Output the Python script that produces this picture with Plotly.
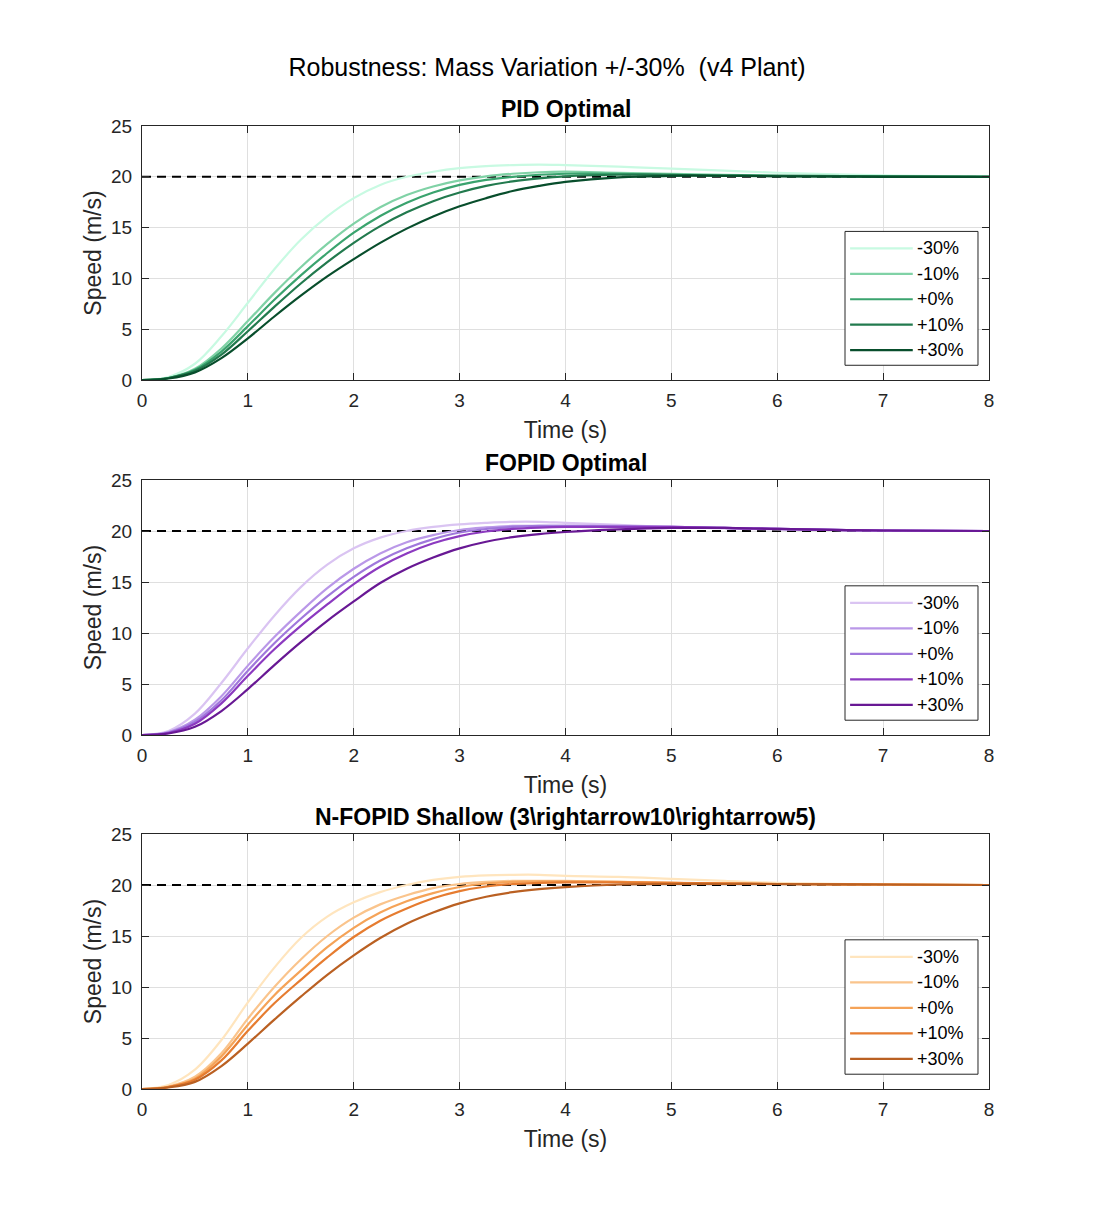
import plotly.graph_objects as go
from plotly.subplots import make_subplots

# ---------------- data ----------------
time_s = [0, 0.25, 0.5, 0.75, 1, 1.25, 1.5, 1.75, 2, 2.25, 2.5, 2.75, 3, 3.25, 3.5, 3.75, 4, 4.5, 5, 5.5, 6, 7, 8]
labels = ["-30%", "-10%", "+0%", "+10%", "+30%"]
reference_speed = 20

pid_m30 = [0, 0.3, 1.6, 4.3, 7.6, 10.9, 13.8, 16.1, 17.9, 19.2, 20.0, 20.5, 20.85, 21.05, 21.15, 21.2, 21.15, 21.0, 20.8, 20.6, 20.4, 20.15, 20.05]
pid_m10 = [0, 0.2, 1.1, 3.1, 5.8, 8.55, 11.1, 13.4, 15.4, 17.0, 18.2, 19.05, 19.65, 20.05, 20.3, 20.45, 20.5, 20.4, 20.3, 20.2, 20.1, 20.05, 20.0]
pid_p00 = [0, 0.2, 1.0, 2.8, 5.3, 7.9, 10.3, 12.5, 14.5, 16.15, 17.45, 18.45, 19.2, 19.7, 20.0, 20.2, 20.3, 20.3, 20.2, 20.15, 20.1, 20.05, 20.0]
pid_p10 = [0, 0.2, 0.9, 2.5, 4.8, 7.2, 9.5, 11.6, 13.5, 15.15, 16.5, 17.6, 18.45, 19.1, 19.55, 19.85, 20.05, 20.2, 20.2, 20.1, 20.1, 20.05, 20.0]
pid_p30 = [0, 0.15, 0.75, 2.15, 4.1, 6.25, 8.3, 10.2, 11.9, 13.5, 14.9, 16.1, 17.1, 17.9, 18.6, 19.1, 19.5, 19.95, 20.1, 20.1, 20.05, 20.0, 20.0]

fopid_m30 = [0, 0.4, 2.1, 5.1, 8.5, 11.7, 14.5, 16.7, 18.3, 19.35, 20.0, 20.4, 20.65, 20.8, 20.9, 20.9, 20.8, 20.6, 20.4, 20.25, 20.15, 20.05, 20.0]
fopid_m10 = [0, 0.3, 1.5, 3.8, 6.8, 9.6, 12.1, 14.4, 16.3, 17.8, 18.9, 19.6, 20.1, 20.35, 20.5, 20.5, 20.5, 20.5, 20.4, 20.3, 20.2, 20.05, 20.0]
fopid_p00 = [0, 0.25, 1.3, 3.4, 6.3, 9.0, 11.4, 13.6, 15.5, 17.1, 18.3, 19.2, 19.85, 20.2, 20.4, 20.5, 20.5, 20.45, 20.4, 20.3, 20.2, 20.05, 20.0]
fopid_p10 = [0, 0.2, 1.1, 3.1, 5.8, 8.4, 10.7, 12.8, 14.8, 16.5, 17.8, 18.8, 19.5, 19.95, 20.2, 20.33, 20.4, 20.4, 20.4, 20.3, 20.2, 20.05, 20.0]
fopid_p30 = [0, 0.15, 0.8, 2.35, 4.5, 6.85, 9.1, 11.2, 13.1, 14.9, 16.3, 17.4, 18.3, 18.95, 19.4, 19.7, 19.9, 20.15, 20.3, 20.3, 20.2, 20.05, 20.0]

nfopid_m30 = [0, 0.4, 1.9, 4.8, 8.5, 11.9, 14.8, 16.9, 18.3, 19.3, 20.0, 20.5, 20.8, 20.95, 21.0, 21.0, 20.9, 20.8, 20.6, 20.4, 20.2, 20.05, 20.0]
nfopid_m10 = [0, 0.25, 1.2, 3.5, 6.9, 10.0, 12.7, 15.0, 16.8, 18.1, 19.0, 19.7, 20.1, 20.3, 20.4, 20.4, 20.4, 20.3, 20.2, 20.15, 20.1, 20.05, 20.0]
nfopid_p00 = [0, 0.2, 1.0, 3.2, 6.3, 9.2, 11.6, 13.9, 15.8, 17.3, 18.4, 19.2, 19.8, 20.15, 20.3, 20.35, 20.35, 20.3, 20.2, 20.15, 20.1, 20.05, 20.0]
nfopid_p10 = [0, 0.2, 0.9, 2.8, 5.7, 8.4, 10.7, 12.9, 14.9, 16.5, 17.7, 18.7, 19.4, 19.85, 20.1, 20.2, 20.25, 20.25, 20.2, 20.15, 20.1, 20.05, 20.0]
nfopid_p30 = [0, 0.15, 0.7, 2.25, 4.45, 6.8, 9.05, 11.2, 13.1, 14.8, 16.2, 17.3, 18.2, 18.85, 19.3, 19.6, 19.8, 20.05, 20.1, 20.1, 20.1, 20.05, 20.0]

panel_titles = ["PID Optimal", "FOPID Optimal", "N-FOPID Shallow (3\\rightarrow10\\rightarrow5)"]
x_ticks = [0, 1, 2, 3, 4, 5, 6, 7, 8]
y_ticks = [0, 5, 10, 15, 20, 25]

# ---------------- styles ----------------
green = ["rgb(200,250,226)", "rgb(128,210,166)", "rgb(58,163,110)", "rgb(34,122,78)", "rgb(8,78,44)"]
purple = ["rgb(218,196,242)", "rgb(186,152,232)", "rgb(160,120,220)", "rgb(140,58,192)", "rgb(104,24,148)"]
orange = ["rgb(255,229,190)", "rgb(250,196,140)", "rgb(245,163,88)", "rgb(230,124,48)", "rgb(186,96,34)"]

panels = [
    ([pid_m30, pid_m10, pid_p00, pid_p10, pid_p30], green),
    ([fopid_m30, fopid_m10, fopid_p00, fopid_p10, fopid_p30], purple),
    ([nfopid_m30, nfopid_m10, nfopid_p00, nfopid_p10, nfopid_p30], orange),
]

FONT = "Liberation Sans, Arial, Helvetica, sans-serif"
TXT = "#262626"

fig = make_subplots(rows=3, cols=1, vertical_spacing=0.1)

H_PLOT = 963.0
domains = [[709 / H_PLOT, 1.0], [354 / H_PLOT, 609 / H_PLOT], [0.0, 255 / H_PLOT]]

shapes = []
annotations = []

for i, (series, cols) in enumerate(panels):
    row = i + 1
    fig.add_trace(go.Scatter(x=[x_ticks[0], x_ticks[-1]], y=[reference_speed, reference_speed],
                             mode="lines", line=dict(color="black", width=2, dash="9px,6px"),
                             showlegend=False, hoverinfo="skip"), row=row, col=1)
    for s, c, lab in zip(series, cols, labels):
        fig.add_trace(go.Scatter(x=time_s, y=s, mode="lines", name=lab,
                                 line=dict(color=c, width=2.2, shape="spline", smoothing=1.0),
                                 showlegend=False), row=row, col=1)

    axn = "" if row == 1 else str(row)
    xref_dom = f"x{axn} domain"
    yref_dom = f"y{axn} domain"

    # legend box (MATLAB style)
    shapes.append(dict(type="rect", xref=xref_dom, yref=yref_dom, x0=0.830, x1=0.987, y0=0.058, y1=0.585,
                       line=dict(color=TXT, width=1), fillcolor="white", layer="above"))
    for k, (c, lab) in enumerate(zip(cols, labels)):
        yy = 0.518 - k * 0.1
        shapes.append(dict(type="line", xref=xref_dom, yref=yref_dom, x0=0.836, x1=0.910, y0=yy, y1=yy,
                           line=dict(color=c, width=2.2), layer="above"))
        annotations.append(dict(xref=xref_dom, yref=yref_dom, x=0.913, y=yy, text=lab, showarrow=False,
                                xanchor="left", yanchor="middle", font=dict(family=FONT, size=18, color="black")))

    annotations.append(dict(xref=xref_dom, yref=yref_dom, x=0.5, y=1.0, yshift=2, text=f"<b>{panel_titles[i]}</b>",
                            showarrow=False, xanchor="center", yanchor="bottom",
                            font=dict(family=FONT, size=23, color="black")))

    fig.update_xaxes(range=[x_ticks[0], x_ticks[-1]], tickvals=x_ticks, ticks="inside", ticklen=7,
                     tickcolor=TXT, showline=True, linecolor=TXT, linewidth=1, mirror="ticks",
                     showgrid=True, gridcolor="#dfdfdf", gridwidth=1, zeroline=False,
                     tickfont=dict(family=FONT, size=19, color=TXT),
                     title=dict(text="Time (s)", font=dict(family=FONT, size=23, color=TXT), standoff=12),
                     ticklabelstandoff=3, row=row, col=1)
    fig.update_yaxes(range=[y_ticks[0], y_ticks[-1]], tickvals=y_ticks, ticks="inside", ticklen=7,
                     tickcolor=TXT, showline=True, linecolor=TXT, linewidth=1, mirror="ticks",
                     showgrid=True, gridcolor="#dfdfdf", gridwidth=1, zeroline=False,
                     tickfont=dict(family=FONT, size=19, color=TXT),
                     title=dict(text="Speed (m/s)", font=dict(family=FONT, size=23, color=TXT), standoff=3),
                     ticklabelstandoff=5, domain=domains[i], row=row, col=1)

fig.update_layout(
    width=1094, height=1219,
    margin=dict(l=142, r=105, t=126, b=130),
    paper_bgcolor="white", plot_bgcolor="white",
    title=dict(text="Robustness: Mass Variation +/-30%  (v4 Plant)", x=0.5, xanchor="center",
               y=1 - 67 / 1219, yanchor="middle", font=dict(family=FONT, size=25, color="black")),
    shapes=shapes, annotations=annotations, showlegend=False,
)

fig.write_html("out.html")
